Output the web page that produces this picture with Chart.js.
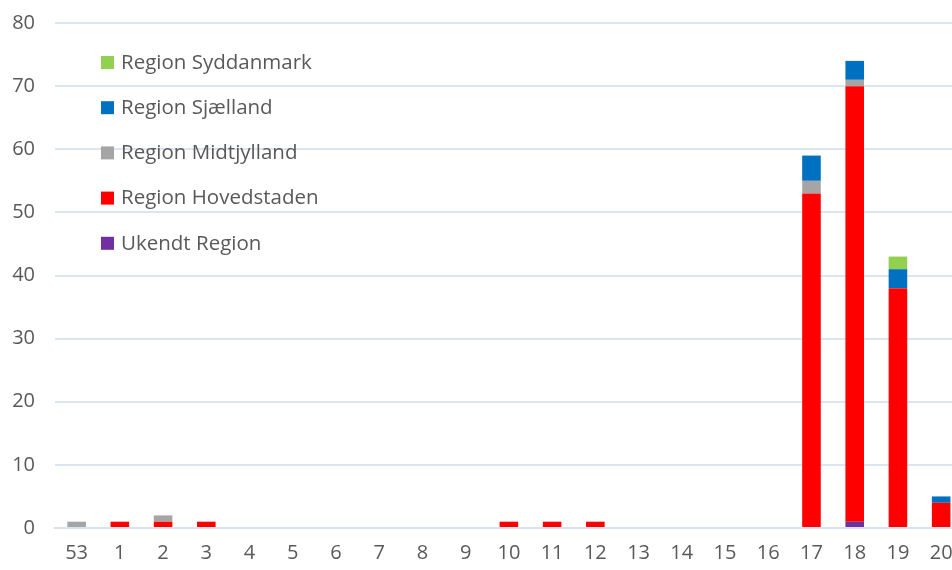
<!DOCTYPE html>
<html lang="da">
<head>
  <meta charset="UTF-8">
  <title>Tilfælde pr. uge</title>
  <script src="https://cdn.jsdelivr.net/npm/chart.js"></script>
  <style>
    html, body { margin: 0; padding: 0; background: #fff; overflow: hidden; }
    .wrap { position: relative; width: 1006px; height: 579px; margin-top: -9px; }
  </style>
</head>
<body>
  <div class="wrap">
    <canvas id="ugeChart"></canvas>
  </div>

  <script>
    // Uger (x-akse)
    const uger = ['53', '1', '2', '3', '4', '5', '6', '7', '8', '9', '10', '11', '12', '13', '14', '15', '16', '17', '18', '19', '20', '21'];

    // Antal pr. region (nederst i stakken først)
    const ukendt      = [0, 0, 0, 0, 0, 0, 0, 0, 0, 0, 0, 0, 0, 0, 0, 0, 0, 0, 1, 0, 0, 0];
    const hovedstaden = [0, 1, 1, 1, 0, 0, 0, 0, 0, 0, 1, 1, 1, 0, 0, 0, 0, 53, 69, 38, 4, 0];
    const midtjylland = [1, 0, 1, 0, 0, 0, 0, 0, 0, 0, 0, 0, 0, 0, 0, 0, 0, 2, 1, 0, 0, 0];
    const sjaelland   = [0, 0, 0, 0, 0, 0, 0, 0, 0, 0, 0, 0, 0, 0, 0, 0, 0, 4, 3, 3, 1, 0];
    const syddanmark  = [0, 0, 0, 0, 0, 0, 0, 0, 0, 0, 0, 0, 0, 0, 0, 0, 0, 0, 0, 2, 0, 0];

    const yMax = 80;
    const yStep = 10;

    const gra = '#595959';
    const font = 'Open Sans';

    // legend tegnet inde i plotområdet, øverst til venstre
    const legendInde = {
      id: 'legendInde',
      afterDraw(chart) {
        const ctx = chart.ctx;
        const ds = chart.data.datasets.slice().reverse();
        ctx.save();
        ctx.font = '20.5px "' + font + '"';
        ctx.textBaseline = 'middle';
        ds.forEach((d, i) => {
          const y = 72 + i * 45.2;
          ctx.fillStyle = d.backgroundColor;
          ctx.fillRect(101, y - 7, 13, 13);
          ctx.fillStyle = gra;
          ctx.fillText(d.label, 121, y);
        });
        ctx.restore();
      }
    };

    const ctx = document.getElementById('ugeChart').getContext('2d');
    new Chart(ctx, {
      type: 'bar',
      data: {
        labels: uger,
        datasets: [
          { label: 'Ukendt Region', data: ukendt, backgroundColor: '#7030A0' },
          { label: 'Region Hovedstaden', data: hovedstaden, backgroundColor: '#FF0000' },
          { label: 'Region Midtjylland', data: midtjylland, backgroundColor: '#A5A5A5' },
          { label: 'Region Sjælland', data: sjaelland, backgroundColor: '#0070C0' },
          { label: 'Region Syddanmark', data: syddanmark, backgroundColor: '#92D050' }
        ]
      },
      options: {
        responsive: true,
        maintainAspectRatio: false,
        animation: false,
        layout: { padding: { top: 4, right: 0, left: 0, bottom: 0 } },
        datasets: {
          bar: { barPercentage: 0.43, categoryPercentage: 1.0, borderWidth: 0 }
        },
        scales: {
          x: {
            stacked: true,
            grid: { display: false },
            border: { display: true, color: '#D9E2F0', width: 2 },
            ticks: { color: gra, font: { family: font, size: 20 }, padding: 5, maxRotation: 0, autoSkip: false },
            afterFit(scale) { scale.height = 42; }
          },
          y: {
            stacked: true,
            min: 0,
            max: yMax,
            grid: { color: '#DCE5F2', lineWidth: 2, drawTicks: false },
            border: { display: false },
            ticks: { stepSize: yStep, color: gra, font: { family: font, size: 20 }, padding: 20 },
            afterFit(scale) { scale.width = 55; }
          }
        },
        plugins: {
          legend: { display: false },
          tooltip: { enabled: false }
        }
      },
      plugins: [legendInde]
    });
  </script>
</body>
</html>
